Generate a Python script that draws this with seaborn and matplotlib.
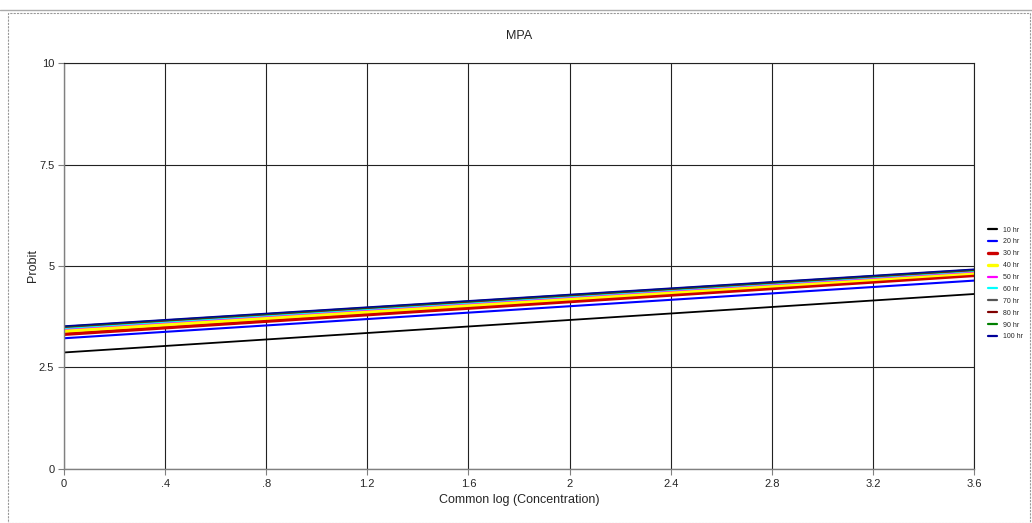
import matplotlib
matplotlib.use("Agg")
import matplotlib.pyplot as plt
from matplotlib.patches import Rectangle
from matplotlib.lines import Line2D
import seaborn as sns
import pandas as pd

# Probit regression lines for MPA at each exposure time
log_conc = [0.0, 3.6]
series_names = ["10 hr", "20 hr", "30 hr", "40 hr", "50 hr",
                "60 hr", "70 hr", "80 hr", "90 hr", "100 hr"]
probit_10 = [2.87, 4.31]
probit_20 = [3.22, 4.64]
probit_30 = [3.32, 4.77]
probit_40 = [3.40, 4.83]
probit_50 = [3.45, 4.86]
probit_60 = [3.47, 4.88]
probit_70 = [3.49, 4.89]
probit_80 = [3.50, 4.90]
probit_90 = [3.51, 4.91]
probit_100 = [3.52, 4.92]
x_ticks = [0, 0.4, 0.8, 1.2, 1.6, 2.0, 2.4, 2.8, 3.2, 3.6]
x_tick_labels = ["0", ".4", ".8", "1.2", "1.6", "2", "2.4", "2.8", "3.2", "3.6"]
y_ticks = [0, 2.5, 5, 7.5, 10]
y_tick_labels = ["0", "2.5", "5", "7.5", "10"]

all_probits = [probit_10, probit_20, probit_30, probit_40, probit_50,
               probit_60, probit_70, probit_80, probit_90, probit_100]
colors = ["#000000", "#0000ff", "#cc0000", "#ffff00", "#ff00ff",
          "#00ffff", "#555555", "#800000", "#008000", "#000099"]
widths = [1.3, 1.5, 2.6, 2.6, 1.2, 1.4, 1.1, 1.1, 1.1, 1.1]

rows = []
for name, vals in zip(series_names, all_probits):
    for x, y in zip(log_conc, vals):
        rows.append({"log": x, "probit": y, "series": name})
df = pd.DataFrame(rows)

sns.set_style("white")
plt.rcParams["font.family"] = ["Liberation Sans", "DejaVu Sans"]

fig = plt.figure(figsize=(10.32, 5.23), dpi=100)
ax = fig.add_axes([0.062, 0.1033, 0.8818, 0.7762])

for name, col, lw in zip(series_names, colors, widths):
    sns.lineplot(data=df[df["series"] == name], x="log", y="probit",
                 color=col, linewidth=lw, ax=ax, legend=False)

ax.set_xlim(0, 3.6)
ax.set_ylim(0, 10)
ax.set_xticks(x_ticks)
ax.set_xticklabels(x_tick_labels, fontsize=8)
ax.set_yticks(y_ticks)
ax.set_yticklabels(y_tick_labels, fontsize=8)
ax.grid(True, color="#222222", linewidth=0.8)
ax.set_axisbelow(True)
ax.tick_params(axis="both", length=4, width=0.8, color="#808080",
               direction="out", pad=3, left=True, bottom=True)
for side in ["top", "right"]:
    ax.spines[side].set_color("#222222")
    ax.spines[side].set_linewidth(0.8)
for side in ["left", "bottom"]:
    ax.spines[side].set_color("#808080")
    ax.spines[side].set_linewidth(1.0)

ax.set_xlabel("Common log (Concentration)", fontsize=9, labelpad=4)
ax.set_ylabel("Probit", fontsize=9)
ax.yaxis.set_label_coords(-0.027, 0.5)
ax.set_title("MPA", fontsize=9, pad=17)

handles = [Line2D([0], [0], color=c, linewidth=2.4 if lw > 2 else 1.6)
           for c, lw in zip(colors, widths)]
fig.legend(handles, series_names, loc="upper left",
           bbox_to_anchor=(0.955, 0.572), frameon=False, fontsize=5,
           handlelength=1.3, handletextpad=0.8, labelspacing=0.7,
           borderaxespad=0)

# Outer chart frame
fig.add_artist(Rectangle((0.008, 0.0), 0.99, 0.975, transform=fig.transFigure,
                         fill=False, edgecolor="#999999", linewidth=0.8,
                         linestyle=(0, (2, 1))))
fig.add_artist(Line2D([0.0, 1.0], [0.981, 0.981], transform=fig.transFigure,
                      color="#aaaaaa", linewidth=1.0))

fig.savefig("out.png", dpi=100)
